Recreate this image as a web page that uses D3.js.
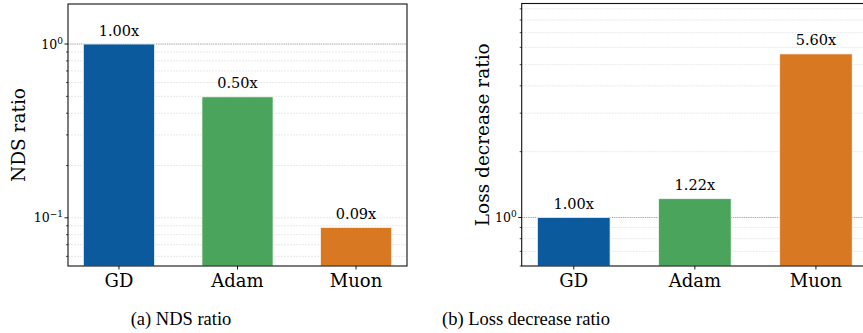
<!DOCTYPE html>
<html>
<head>
<meta charset="utf-8">
<script src="https://cdn.jsdelivr.net/npm/d3@7"></script>
<style>
  body { margin: 0; background: #fff; }
  text { font-family: "DejaVu Serif", serif; fill: #000; }
  .caption { font-family: "Liberation Serif", serif; font-size: 18.5px; }
</style>
</head>
<body>
<svg id="chart" width="863" height="333"></svg>
<script>
(function(){

  var optimizers = ['GD', 'Adam', 'Muon'];
  var barColors = ['#0b5a9e', '#4aa45c', '#d97822'];
  var ndsRatio = [1.00, 0.497, 0.088];
  var lossRatio = [1.00, 1.22, 5.60];
  var referenceLine = 1;
  var yLabels = ['NDS ratio', 'Loss decrease ratio'];
  var captions = ['(a) NDS ratio', '(b) Loss decrease ratio'];

  var svg = d3.select('#chart');

  function panel(values, box, yLabel, labelX, caption, captionX) {
    var lo = d3.min(values) * 0.6, hi = d3.max(values) * 1.7;

    var x = d3.scaleBand()
      .domain(optimizers)
      .range([box.left, box.right])
      .paddingInner(0.4)
      .paddingOuter(0.13);

    var y = d3.scaleLog()
      .domain([lo, hi])
      .range([box.bottom, box.top]);

    // major (powers of ten) and minor ticks inside the domain
    var major = [], minor = [];
    for (var k = Math.floor(Math.log10(lo)); k <= Math.ceil(Math.log10(hi)); k++) {
      var p = Math.pow(10, k);
      if (p >= lo && p <= hi) major.push(k);
      for (var j = 2; j <= 9; j++) {
        if (j * p >= lo && j * p <= hi) minor.push(j * p);
      }
    }
    var gridValues = minor.concat(major.map(function(k) {return Math.pow(10, k);}));

    var g = svg.append('g');

    g.selectAll('line.grid')
      .data(gridValues)
      .enter()
      .append('line')
      .attr('x1', box.left).attr('x2', box.right)
      .attr('y1', function(d) {return y(d);})
      .attr('y2', function(d) {return y(d);})
      .attr('stroke', '#e0e0e0')
      .attr('stroke-width', 0.7)
      .attr('stroke-dasharray', '2,1');

    g.append('line')
      .attr('x1', box.left).attr('x2', box.right)
      .attr('y1', y(referenceLine)).attr('y2', y(referenceLine))
      .attr('stroke', '#999')
      .attr('stroke-width', 0.8)
      .attr('stroke-dasharray', '1.2,1');

    g.selectAll('rect')
      .data(values)
      .enter()
      .append('rect')
      .attr('x', function(d, i) {return x(optimizers[i]);})
      .attr('width', x.bandwidth())
      .attr('y', function(d) {return y(d);})
      .attr('height', function(d) {return box.bottom - y(d);})
      .attr('fill', function(d, i) {return barColors[i];})
      .attr('stroke', 'rgba(255,255,255,0.7)')
      .attr('stroke-width', 1);

    g.selectAll('text.value')
      .data(values)
      .enter()
      .append('text')
      .attr('x', function(d, i) {return x(optimizers[i]) + x.bandwidth() / 2;})
      .attr('y', function(d) {return y(d) - 8.5;})
      .attr('text-anchor', 'middle')
      .style('font-size', '14.5px')
      .text(function(d) {return d.toFixed(2) + 'x';});

    // spines
    g.append('rect')
      .attr('x', box.left).attr('y', box.top)
      .attr('width', box.right - box.left)
      .attr('height', box.bottom - box.top)
      .attr('fill', 'none')
      .attr('stroke', '#111')
      .attr('stroke-width', 1.1);

    // y ticks
    g.selectAll('line.ytick-minor')
      .data(minor)
      .enter()
      .append('line')
      .attr('x1', box.left - 2).attr('x2', box.left)
      .attr('y1', function(d) {return y(d);})
      .attr('y2', function(d) {return y(d);})
      .attr('stroke', '#000')
      .attr('stroke-width', 0.7);

    g.selectAll('line.ytick-major')
      .data(major)
      .enter()
      .append('line')
      .attr('x1', box.left - 3.5).attr('x2', box.left)
      .attr('y1', function(d) {return y(Math.pow(10, d));})
      .attr('y2', function(d) {return y(Math.pow(10, d));})
      .attr('stroke', '#000')
      .attr('stroke-width', 0.9);

    var lab = g.selectAll('text.ylab')
      .data(major)
      .enter()
      .append('text')
      .attr('x', box.left - 5)
      .attr('y', function(d) {return y(Math.pow(10, d)) + 4.5;})
      .attr('text-anchor', 'end')
      .style('font-size', '12.5px');
    lab.append('tspan').text('10');
    lab.append('tspan')
      .attr('dy', -5)
      .style('font-size', '9px')
      .text(function(d) {return d < 0 ? '\u2212' + (-d) : d;});

    // x ticks
    g.selectAll('line.xtick')
      .data(optimizers)
      .enter()
      .append('line')
      .attr('x1', function(d) {return x(d) + x.bandwidth() / 2;})
      .attr('x2', function(d) {return x(d) + x.bandwidth() / 2;})
      .attr('y1', box.bottom).attr('y2', box.bottom + 3.5)
      .attr('stroke', '#000')
      .attr('stroke-width', 0.9);

    g.selectAll('text.xlab')
      .data(optimizers)
      .enter()
      .append('text')
      .attr('x', function(d) {return x(d) + x.bandwidth() / 2;})
      .attr('y', box.bottom + 20.5)
      .attr('text-anchor', 'middle')
      .style('font-size', '18px')
      .text(function(d) {return d;});

    g.append('text')
      .attr('transform', 'translate(' + labelX + ',' + (box.top + box.bottom) / 2 + ') rotate(-90)')
      .attr('text-anchor', 'middle')
      .attr('dy', '0.35em')
      .style('font-size', '18.5px')
      .text(yLabel);

    svg.append('text')
      .attr('class', 'caption')
      .attr('x', captionX)
      .attr('y', 325)
      .attr('text-anchor', 'middle')
      .text(caption);
  }

  panel(ndsRatio, {left: 68, right: 407, top: 4, bottom: 266}, yLabels[0], 19, captions[0], 181);
  panel(lossRatio, {left: 521.7, right: 868, top: 3.5, bottom: 266}, yLabels[1], 483, captions[1], 526);

})();
</script>
</body>
</html>
